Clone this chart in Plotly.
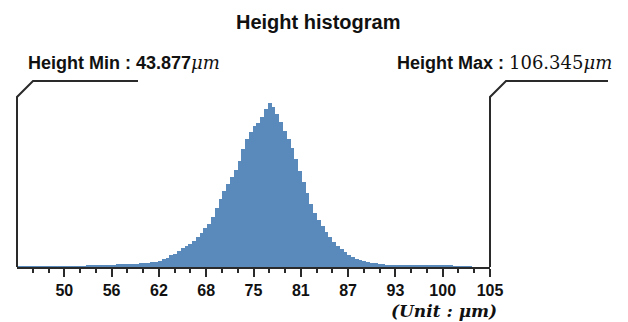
import numpy as np
import plotly.graph_objects as go

# ---- data ----
height_min = 43.877
height_max = 106.345
bin_start = 44.0
bin_width = 0.5
counts = [
    3, 4, 3, 4, 5, 4, 5, 4, 6, 5, 5, 6, 6, 7, 6, 8, 7, 9, 10, 12,          # 44.0 - 54.0
    15, 20, 19, 22, 24, 23, 26, 25, 28, 30, 31, 34, 36, 38, 41, 46,        # 54.0 - 62.0
    53, 64, 77, 94, 116, 131, 160, 186, 208, 232, 262, 298,                # 62.0 - 68.0
    338, 386, 431, 502, 588, 681, 757, 829, 893, 962, 1055, 1172,          # 68.0 - 74.0
    1274, 1339, 1402, 1436, 1495, 1571, 1628, 1590, 1522, 1440, 1352, 1268, # 74.0 - 80.0
    1183, 1077, 958, 842, 731, 628, 538, 468, 408, 349, 298, 252,          # 80.0 - 86.0
    213, 181, 148, 124, 103, 84, 72, 58, 48, 41, 35, 31,                   # 86.0 - 92.0
    27, 24, 21, 20, 19, 18, 17, 16,                                        # 92.0 - 96.0
    15, 15, 14, 14, 13, 13, 12, 12, 11, 11,                                # 96.0 - 101.0
    10, 9, 9, 8, 6, 4,                                                     # 101.0 - 104.0
]
tick_labels = ["50", "56", "62", "68", "75", "81", "87", "93", "100", "105"]

# ---- derived ----
centers = bin_start + bin_width * (np.arange(len(counts)) + 0.5)
n_major = len(tick_labels)
step = (height_max - height_min) / n_major
tick_vals = [height_min + step * (i + 1) for i in range(n_major)]
minor_vals = [height_min + step / 3 * k for k in range(1, 3 * n_major) if k % 3 != 0]

SANS = "Liberation Sans, Arial, sans-serif"
SERIF = "DejaVu Serif, serif"
LINE = "#2a2a2a"

fig = go.Figure()
fig.add_trace(go.Bar(
    x=centers, y=counts, width=bin_width,
    marker=dict(color="#5a8abb", line=dict(width=0)),
    hoverinfo="skip",
))

W, H = 628, 322
L, R, T, B = 17, 138, 97, 55
pw, ph = W - L - R, H - T - B

def px(x):
    return (x - L) / pw

def py(y):
    return (H - B - y) / ph

# callout lines (min / max)
fig.add_shape(type="path", xref="paper", yref="paper",
              path=f"M 0 0 L 0 1 L {px(33)} {py(81)} L {px(138)} {py(81)}",
              line=dict(color=LINE, width=2))
fig.add_shape(type="path", xref="paper", yref="paper",
              path=f"M 1 0 L 1 1 L {px(506)} {py(81)} L {px(608)} {py(81)}",
              line=dict(color=LINE, width=2))

fig.add_annotation(xref="paper", yref="paper", x=px(318), y=py(22),
                   text="<b>Height histogram</b>", showarrow=False,
                   xanchor="center", yanchor="middle",
                   font=dict(family=SANS, size=20, color="#111"))
fig.add_annotation(xref="paper", yref="paper", x=px(26), y=py(62),
                   text=f"<b>Height Min : {height_min:.3f}</b><span style='font-family:DejaVu Serif'><i>μm</i></span>",
                   showarrow=False, xanchor="left", yanchor="middle",
                   font=dict(family=SANS, size=18, color="#111"))
fig.add_annotation(xref="paper", yref="paper", x=px(395), y=py(62),
                   text=f"<b>Height Max : </b><span style='font-family:DejaVu Serif'>{height_max:.3f}<i>μm</i></span>",
                   showarrow=False, xanchor="left", yanchor="middle",
                   font=dict(family=SANS, size=18, color="#111"))
fig.add_annotation(xref="paper", yref="paper", x=px(443.5), y=py(311),
                   text="<b><i>(Unit : μm)</i></b>",
                   showarrow=False, xanchor="center", yanchor="middle",
                   font=dict(family=SERIF, size=17, color="#111"))

fig.update_layout(
    width=W, height=H,
    margin=dict(l=L, r=R, t=T, b=B, pad=0),
    paper_bgcolor="white", plot_bgcolor="white",
    showlegend=False, bargap=0,
    xaxis=dict(
        range=[height_min, height_max],
        showgrid=False, zeroline=False,
        showline=True, linecolor=LINE, linewidth=2,
        tickmode="array", tickvals=tick_vals, ticktext=tick_labels,
        ticks="outside", ticklen=8, tickwidth=2, tickcolor=LINE,
        tickfont=dict(family=SANS, size=16, color="#111", weight="bold"),
        minor=dict(tickvals=minor_vals, ticks="outside", ticklen=4,
                   tickwidth=1.5, tickcolor=LINE, showgrid=False),
    ),
    yaxis=dict(range=[0, 1690], visible=False, fixedrange=True),
)

fig.write_html("out.html")
